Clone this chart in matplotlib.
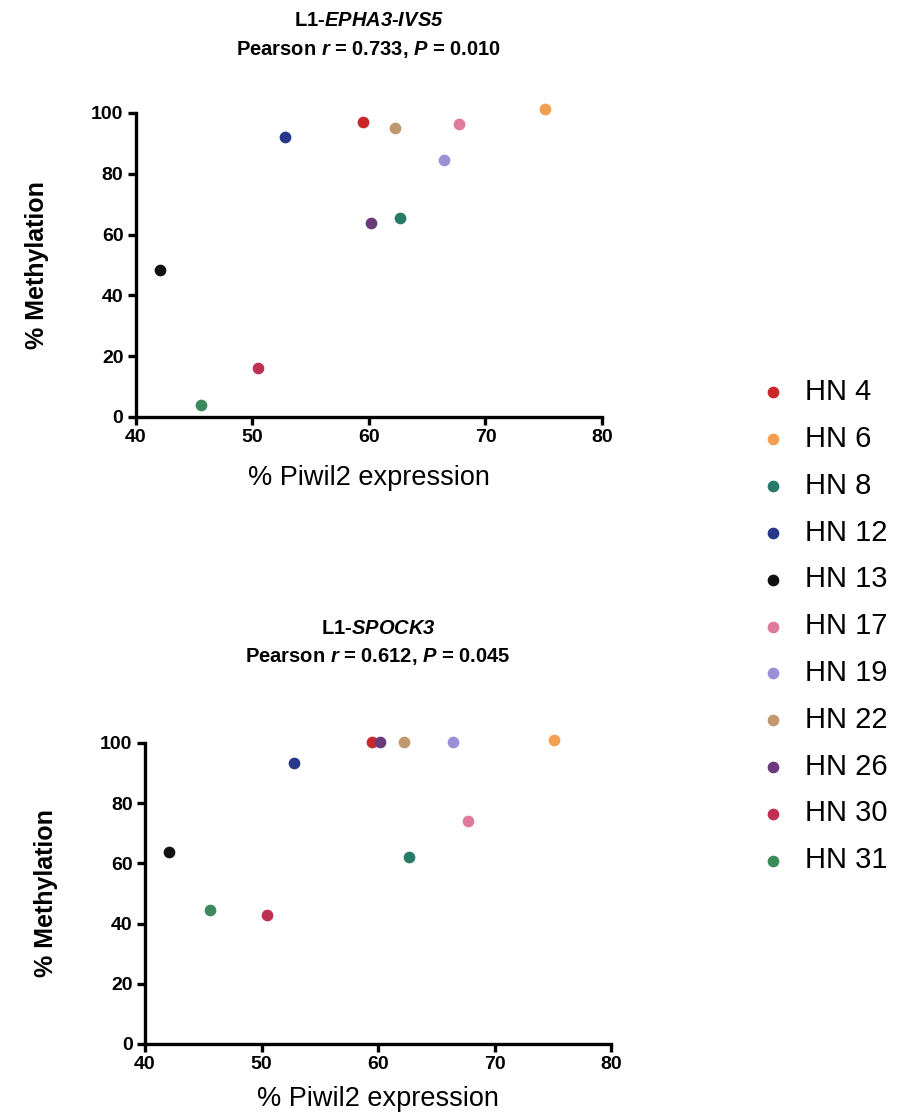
import numpy as np
import matplotlib
matplotlib.use("Agg")
import matplotlib.pyplot as plt

plt.rcParams['font.family'] = ['Liberation Sans', 'DejaVu Sans']
plt.rcParams['mathtext.fontset'] = 'custom'
# italic gene names in the titles, digits included
plt.rcParams['mathtext.rm'] = 'Liberation Sans:bold:italic'
plt.rcParams['mathtext.it'] = 'Liberation Sans:bold:italic'
plt.rcParams['mathtext.bf'] = 'Liberation Sans:bold'

samples = ['HN 4', 'HN 6', 'HN 8', 'HN 12', 'HN 13', 'HN 17', 'HN 19',
           'HN 22', 'HN 26', 'HN 30', 'HN 31']
colors = ['#c8282a', '#f0a050', '#2a7a6a', '#28388a', '#111111', '#e07a9a',
          '#9a90d8', '#c09870', '#6a3a7a', '#c03050', '#3a8a5a']

# % Piwil2 expression (same for both panels)
piwil2 = [59.5, 75.1, 62.7, 52.8, 42.1, 67.7, 66.4, 62.2, 60.2, 50.5, 45.6]

# % methylation per locus
meth_epha3 = [97.0, 101.4, 65.5, 92.2, 48.4, 96.5, 84.4, 95.2, 63.9, 16.2, 4.0]
meth_spock3 = [100.3, 101.0, 62.2, 93.3, 63.8, 74.0, 100.3, 100.3, 100.3, 42.9, 44.5]

titles = ['L1-$\\mathit{EPHA3}$-$\\mathit{IVS5}$\n'
          'Pearson $\\mathit{r}$ = 0.733, $\\mathit{P}$ = 0.010',
          'L1-$\\mathit{SPOCK3}$\n'
          'Pearson $\\mathit{r}$ = 0.612, $\\mathit{P}$ = 0.045']
pads = [42, 58]
xpads = [13, 9]

fig = plt.figure(figsize=(9.04, 11.17), dpi=100)
ax1 = fig.add_axes([0.1504, 0.6267, 0.5155, 0.2722])
ax2 = fig.add_axes([0.1604, 0.0654, 0.5155, 0.2695])

handles = []
for ax, meth, title, pad, xpad in [(ax1, meth_epha3, titles[0], pads[0], xpads[0]),
                                   (ax2, meth_spock3, titles[1], pads[1], xpads[1])]:
    for i in range(len(samples)):
        h = ax.scatter(piwil2[i], meth[i], s=55, color=colors[i],
                       clip_on=False, zorder=3, label=samples[i])
        if ax is ax1:
            handles.append(h)
    ax.set_xlim(40, 80)
    ax.set_ylim(0, 100)
    ax.set_xticks([40, 50, 60, 70, 80])
    ax.set_yticks([0, 20, 40, 60, 80, 100])
    for s in ['top', 'right']:
        ax.spines[s].set_visible(False)
    for s in ['left', 'bottom']:
        ax.spines[s].set_linewidth(2.4)
    ax.tick_params(width=2.4, length=6, labelsize=14, pad=3)
    for lab in ax.get_xticklabels() + ax.get_yticklabels():
        lab.set_fontweight('bold')
    ax.set_xlabel('% Piwil2 expression', fontsize=19.5, labelpad=xpad)
    ax.set_ylabel('% Methylation', fontsize=18, fontweight='bold', labelpad=30)
    ax.set_title(title, fontsize=14.5, fontweight='bold', pad=pad, linespacing=1.55)

fig.legend(handles=handles, loc='upper left', bbox_to_anchor=(0.813, 0.685),
           frameon=False, fontsize=21, labelspacing=0.645, handletextpad=0.70,
           handlelength=0.8, markerscale=1.0)

fig.savefig('out.png', dpi=100)
